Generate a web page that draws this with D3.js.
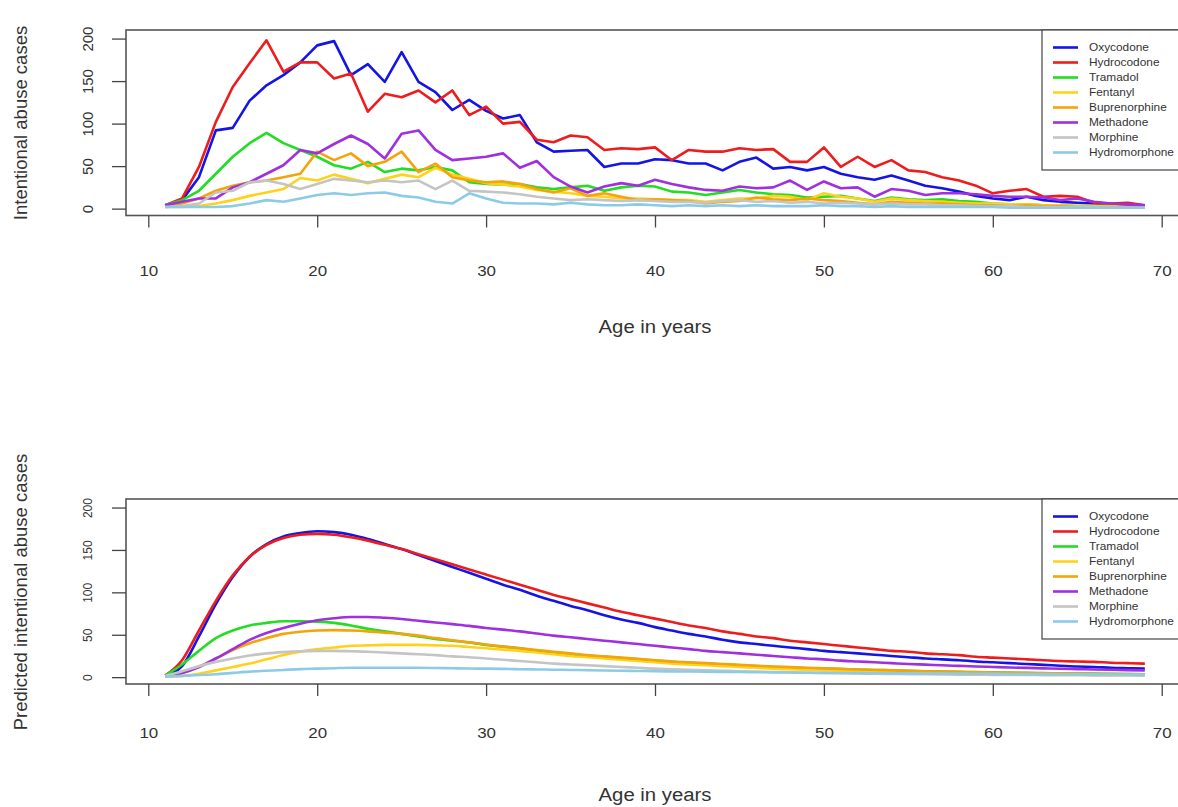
<!DOCTYPE html>
<html>
<head>
<meta charset="utf-8">
<script src="https://cdn.jsdelivr.net/npm/d3@7"></script>
<style>
  body { margin: 0; background: #fff; }
  text { font-family: "Liberation Sans", Arial, sans-serif; fill: #333; }
</style>
</head>
<body>
<svg id="chart" width="1178" height="807"></svg>
<script>
// ages on the x axis
var ages = [11,12,13,14,15,16,17,18,19,20, 21,22,23,24,25,26,27,28,29,30,
            31,32,33,34,35,36,37,38,39,40, 41,42,43,44,45,46,47,48,49,50,
            51,52,53,54,55,56,57,58,59,60, 61,62,63,64,65,66,67,68,69];

var drugs = ["Oxycodone","Hydrocodone","Tramadol","Fentanyl","Buprenorphine","Methadone","Morphine","Hydromorphone"];

var xTicks = [10,20,30,40,50,60,70]
  , yTicks = [0,50,100,150,200];

var obsOxycodone = [4,10,37,92,95,127,145,157,172,192, 197,157,170,149,184,149,137,116,128,115,
  106,110,78,67,68,69,49,53,53,58, 57,53,53,45,55,60,47,49,45,49, 41,37,34,39,33,27,24,20,15,12, 10,14,10,8,7,6,5,4,3];
var obsHydrocodone = [4,12,49,102,143,171,198,161,172,172, 153,159,114,135,131,139,125,139,110,120,
  100,102,81,78,86,84,69,71,70,72, 57,69,67,67,71,69,70,55,55,72, 49,61,49,57,45,43,37,33,27,18, 21,23,14,15,14,7,6,7,4];
var obsTramadol = [4,10,21,41,61,77,89,77,69,61, 51,47,55,43,47,45,49,45,31,29,
  28,29,25,23,25,27,21,25,27,26, 20,19,16,19,22,19,17,16,13,14, 15,12,9,13,11,10,11,9,8,6, 5,5,4,4,3,3,3,2,2];
var obsFentanyl = [2,2,3,6,10,15,19,23,36,33, 40,35,30,35,40,37,48,40,35,30,
  28,26,22,20,18,15,14,12,12,11, 10,10,8,10,12,12,15,14,10,18, 14,12,8,12,10,9,8,7,6,6, 5,5,4,4,3,3,3,2,2];
var obsBuprenorphine = [3,6,12,21,27,31,33,37,41,67, 57,65,50,55,67,43,53,37,33,31,
  32,29,23,19,24,15,18,14,10,11, 10,9,6,8,9,13,11,10,12,10, 9,7,5,8,7,6,6,5,4,4, 3,4,3,3,2,2,2,2,1];
var obsMethadone = [4,8,12,12,25,31,41,51,69,65, 76,86,76,59,88,92,69,57,59,61,
  65,48,56,37,26,19,26,30,27,34, 29,25,22,21,26,24,25,33,22,32, 24,25,14,23,21,16,18,18,17,15, 14,14,13,10,12,8,6,5,4];
var obsMorphine = [2,3,6,19,21,31,33,29,23,29, 35,33,31,33,31,33,23,33,21,20,
  19,17,14,12,10,11,10,9,10,9, 8,8,7,9,10,8,9,7,8,6, 7,6,5,6,5,5,4,4,3,3, 3,2,2,2,2,2,1,1,1];
var obsHydromorphone = [2,2,2,2,3,6,10,8,12,16, 18,16,18,19,15,13,8,6,18,12,
  7,6,6,5,7,5,4,4,5,4, 3,4,3,4,3,4,3,3,3,4, 3,3,2,3,2,2,2,2,2,2, 1,1,1,1,1,1,1,1,1];

// predicted cases (bottom panel), ages 11..69
var predOxycodone = [2,13,48,86,118,142,157,166,170,172, 171,168,163,157,151,144,137,130,123,116,
  109,103,96,90,84,79,73,68,64,59, 55,51,48,44,41,39,37,35,33,31,
  29.5,28,26.5,25,23.5,22,21,20,18.5,17.5, 16.5,15.5,14.5,13.5,12.5,12,11,10.5,10];
var predHydrocodone = [2,20,55,90,120,142,156,164,168,169, 168,165,161,156,151,145,139,133,127,121,
  115,109,103,97,92,87,82,77,73,69, 65,61,58,54,51,48,46,43,41,39,
  37,35,33,31,30,28,27,26,24,23, 22,21,20,19,18.5,18,17,16.5,16];
var predTramadol = [2,15,31,46,55,61,64,66,66,65.5, 64,61,57,54,51,48,45,43,41,38,
  36,34,31,29,27,25.5,24,22.5,21,19.5, 18,17,16,15,14,13,12,11.5,10.5,10,
  9.5,9,8.5,8,7.5,7,6.5,6.2,6,5.6, 5.3,5,4.8,4.5,4.3,4.1,3.9,3.7,3.5];
var predFentanyl = [0.5,1.5,4,8,12,16,21,26,30,33, 35,37,37.5,38,38,38,37.5,37,35.5,34,
  32.5,31,29,27,25,23.5,22,20.5,19,17.5, 16,15,14,13,12,11,10,9.3,8.6,8,
  7.4,6.9,6.4,6,5.6,5.2,4.8,4.5,4.2,3.9, 3.7,3.5,3.3,3.1,2.9,2.7,2.6,2.5,2.4];
var predBuprenorphine = [1,5,12,22,32,40,46,51,53.5,55, 55.5,55,54,52.5,51,49,46,43.5,41,38.5,
  36,34,32,30,28,26,24.5,23,21.5,20, 18.5,17.5,16.5,15.5,14.5,13.5,12.5,11.8,11,10.3,
  9.7,9,8.5,8,7.5,7,6.6,6.2,5.8,5.5, 5.2,4.9,4.6,4.4,4.2,4,3.8,3.6,3.4];
var predMethadone = [2,5,12,22,33,44,52,58,63,67, 69.5,71,71,70,68.5,66.5,64.5,62.5,60.5,58,
  56,54,51.5,49,47,45,43,41,39,37, 35,33,31,29.5,28,26.5,25,23.5,22,21,
  19.5,18.5,17.5,16.5,15.5,14.8,14,13.3,12.6,12, 11.4,10.9,10.4,9.9,9.5,9.1,8.7,8.3,8];
var predMorphine = [1.5,7,13,18,22,25.5,28,29.5,30.5,31, 31,30.5,30,29,28,27,26,24.5,23.5,22,
  20.5,19,17.5,16,15,14,13,12,11,10, 9.4,8.8,8.2,7.6,7,6.5,6,5.6,5.2,4.9,
  4.6,4.3,4,3.8,3.6,3.4,3.2,3,2.9,2.7, 2.6,2.5,2.4,2.3,2.2,2.1,2,1.9,1.8];
var predHydromorphone = [0.5,1.5,2.5,3.5,5,6.5,7.5,8.5,9.5,10, 10.5,11,11,11,11,11,10.8,10.5,10.2,10,
  9.7,9.4,9.1,8.8,8.5,8.2,7.9,7.6,7.3,7, 6.8,6.6,6.4,6.2,6,5.8,5.6,5.4,5.2,5,
  4.9,4.8,4.6,4.5,4.4,4.3,4.2,4.1,4,3.9, 3.8,3.7,3.6,3.5,3.4,3.3,3.2,3.1,3];

var observed = [obsOxycodone, obsHydrocodone, obsTramadol, obsFentanyl, obsBuprenorphine, obsMethadone, obsMorphine, obsHydromorphone]
  , predicted = [predOxycodone, predHydrocodone, predTramadol, predFentanyl, predBuprenorphine, predMethadone, predMorphine, predHydromorphone];

var colors = ["#1414e6","#ee1c1c","#22dd22","#ffd21a","#f5a30a","#a02fe0","#c4c4c4","#8ccbe8"];

var svg = d3.select("#chart")
  , stretch = "scale(1.13,1)"; // the picture's text is a bit wide

var x = d3.scaleLinear().domain([8.68, 71.32]).range([126, 1184]);

function panel(p) {
  var y = d3.scaleLinear().domain([-8.08, 210.08]).range([p.bottom, p.top]);
  var g = svg.append("g");

  // lines
  var line = d3.line()
    .x(function(d, i) { return x(ages[i]); })
    .y(function(d) { return y(d); })
    .curve(p.curve);

  g.selectAll(".series")
    .data(p.series)
   .enter().append("path")
    .attr("d", line)
    .attr("fill", "none")
    .attr("stroke", function(d, i) { return colors[i]; })
    .attr("stroke-width", 2.6)
    .attr("stroke-linejoin", "round");

  // box
  g.append("rect")
    .attr("x", x.range()[0]).attr("y", p.top)
    .attr("width", x.range()[1] - x.range()[0]).attr("height", p.bottom - p.top)
    .attr("fill", "none").attr("stroke", "#555").attr("stroke-width", 1.6);

  // x axis
  var xa = g.append("g")
    .attr("transform", "translate(0," + p.bottom + ")")
    .call(d3.axisBottom(x).tickValues(xTicks).tickSize(12).tickPadding(p.xPad).tickFormat(d3.format("d")));
  xa.select(".domain").remove();
  xa.selectAll("line").attr("stroke", "#444").attr("stroke-width", 1.3);
  xa.selectAll("text").attr("font-size", 15).attr("fill", "#333")
    .attr("font-family", "Liberation Sans, Arial, sans-serif")
    .attr("transform", stretch);

  // y axis with labels turned like R does
  var ya = g.append("g")
    .attr("transform", "translate(" + x.range()[0] + ",0)")
    .call(d3.axisLeft(y).tickValues(yTicks).tickSize(14));
  ya.select(".domain").remove();
  ya.selectAll("line").attr("stroke", "#444").attr("stroke-width", 1.3);
  ya.selectAll("text")
    .attr("transform", "rotate(-90)")
    .attr("x", 0).attr("y", -p.yLabOff).attr("dy", 0)
    .attr("text-anchor", "middle")
    .attr("font-size", p.yTickFont).attr("fill", "#333")
    .attr("font-family", "Liberation Sans, Arial, sans-serif");

  // titles
  svg.append("text")
    .attr("transform", "translate(" + x(40) + "," + p.xTitleY + ") " + stretch)
    .attr("text-anchor", "middle").attr("font-size", 18)
    .text("Age in years");

  svg.append("text")
    .attr("transform", "translate(27," + p.yTitleY + ") rotate(-90)")
    .attr("text-anchor", "middle").attr("font-size", 18.5)
    .text(p.yTitle);

  // legend, top right
  var lg = svg.append("g").attr("transform", "translate(1042," + p.top + ")");
  lg.append("rect").attr("x", 0).attr("y", 0).attr("width", 160).attr("height", 140)
    .attr("fill", "#fff").attr("stroke", "#444").attr("stroke-width", 1.2);
  var item = lg.selectAll(".item")
    .data(drugs)
   .enter().append("g")
    .attr("transform", function(d, i) { return "translate(0," + (17.5 + i * 15) + ")"; });
  item.append("line")
    .attr("x1", 11).attr("x2", 36)
    .attr("stroke", function(d, i) { return colors[i]; })
    .attr("stroke-width", 2.6);
  item.append("text")
    .attr("transform", "translate(47,0) " + stretch)
    .attr("dy", "0.35em").attr("font-size", 10.5)
    .text(function(d) { return d; });
}

panel({ top: 30, bottom: 215.5, series: observed, curve: d3.curveLinear,
        yTitle: "Intentional abuse cases", yTickFont: 15, yLabOff: 33,
        xPad: 38, xTitleY: 333, yTitleY: 123 });

panel({ top: 499, bottom: 684, series: predicted, curve: d3.curveMonotoneX,
        yTitle: "Predicted intentional abuse cases", yTickFont: 12, yLabOff: 34,
        xPad: 31, xTitleY: 801, yTitleY: 592 });
</script>
</body>
</html>
